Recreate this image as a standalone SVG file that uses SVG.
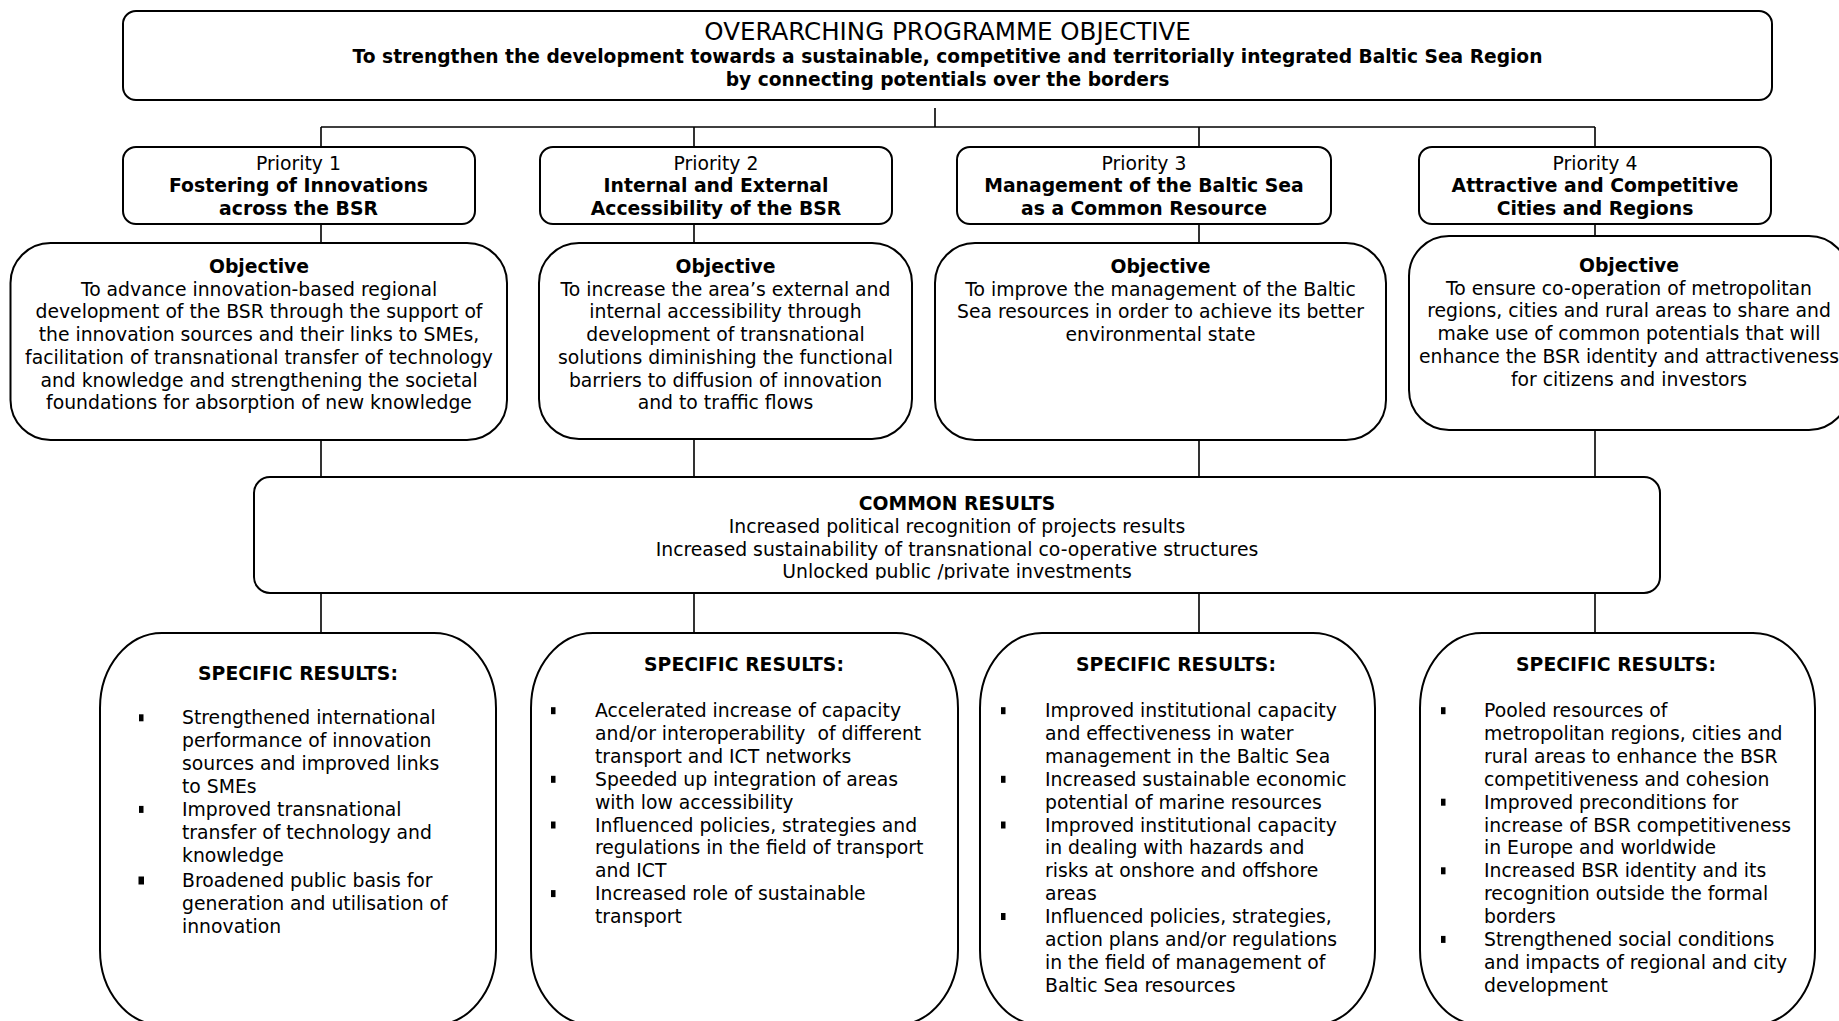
<svg xmlns="http://www.w3.org/2000/svg" width="1839" height="1021" viewBox="0 0 1839 1021">
<style>
text{font-family:"DejaVu Sans","Verdana",sans-serif;font-size:18.8px;fill:#000}
.c{text-anchor:middle}
.b{font-weight:bold}
.h{font-size:24.5px}
.t{font-size:18.65px}
.box{fill:#fff;stroke:#000;stroke-width:2}
.ln{stroke:#000;stroke-width:1.6;fill:none}
.bl{fill:#000}
</style>
<defs>
<clipPath id="cr"><rect x="254" y="477" width="1406" height="102.5"/></clipPath>
</defs>
<g id="connectors">
<path class="ln" d="M935 108V127M321 127H1595M321 127V147M694 127V147M1199 127V147M1595 127V147"/>
<path class="ln" d="M321 224V243M694 224V243M1199 224V243M1595 224V236"/>
<path class="ln" d="M321 440V477M694 439V477M1199 440V477M1595 430V477"/>
<path class="ln" d="M321 593V633M694 593V633M1199 593V633M1595 593V633"/>
</g>
<g id="overarching">
<rect class="box" x="123" y="11" width="1649" height="89" rx="13"/>
<text class="c h" x="947.5" y="40">OVERARCHING PROGRAMME OBJECTIVE</text>
<text class="c b t" x="947.5" y="63">To strengthen the development towards a sustainable, competitive and territorially integrated Baltic Sea Region</text>
<text class="c b t" x="947.5" y="86">by connecting potentials over the borders</text>
</g>
<g id="priority1">
<rect class="box" x="123" y="147" width="352" height="77" rx="13"/>
<text class="c" x="298.5" y="170">Priority 1</text>
<text class="c b" x="298.5" y="192">Fostering of Innovations</text>
<text class="c b" x="298.5" y="215">across the BSR</text>
</g>
<g id="priority2">
<rect class="box" x="540" y="147" width="352" height="77" rx="13"/>
<text class="c" x="716" y="170">Priority 2</text>
<text class="c b" x="716" y="192">Internal and External</text>
<text class="c b" x="716" y="215">Accessibility of the BSR</text>
</g>
<g id="priority3">
<rect class="box" x="957" y="147" width="374" height="77" rx="13"/>
<text class="c" x="1144" y="170">Priority 3</text>
<text class="c b" x="1144" y="192">Management of the Baltic Sea</text>
<text class="c b" x="1144" y="215">as a Common Resource</text>
</g>
<g id="priority4">
<rect class="box" x="1419" y="147" width="352" height="77" rx="13"/>
<text class="c" x="1595" y="170">Priority 4</text>
<text class="c b" x="1595" y="192">Attractive and Competitive</text>
<text class="c b" x="1595" y="215">Cities and Regions</text>
</g>
<g id="objective1">
<rect class="box" x="10.5" y="243" width="496.5" height="197" rx="40"/>
<text class="c b" x="259" y="273">Objective</text>
<text class="c" x="259" y="295.5">To advance innovation-based regional</text>
<text class="c" x="259" y="318.3">development of the BSR through the support of</text>
<text class="c" x="259" y="341">the innovation sources and their links to SMEs,</text>
<text class="c" x="259" y="363.8">facilitation of transnational transfer of technology</text>
<text class="c" x="259" y="386.6">and knowledge and strengthening the societal</text>
<text class="c" x="259" y="409.4">foundations for absorption of new knowledge</text>
</g>
<g id="objective2">
<rect class="box" x="539" y="243" width="373" height="196" rx="40"/>
<text class="c b" x="725.5" y="273">Objective</text>
<text class="c" x="725.5" y="295.5">To increase the area’s external and</text>
<text class="c" x="725.5" y="318.3">internal accessibility through</text>
<text class="c" x="725.5" y="341">development of transnational</text>
<text class="c" x="725.5" y="363.8">solutions diminishing the functional</text>
<text class="c" x="725.5" y="386.6">barriers to diffusion of innovation</text>
<text class="c" x="725.5" y="409.4">and to traffic flows</text>
</g>
<g id="objective3">
<rect class="box" x="935" y="243" width="451" height="197" rx="40"/>
<text class="c b" x="1160.5" y="273">Objective</text>
<text class="c" x="1160.5" y="295.5">To improve the management of the Baltic</text>
<text class="c" x="1160.5" y="318.3">Sea resources in order to achieve its better</text>
<text class="c" x="1160.5" y="341">environmental state</text>
</g>
<g id="objective4">
<rect class="box" x="1409" y="236" width="440" height="194" rx="40"/>
<text class="c b" x="1629" y="272">Objective</text>
<text class="c" x="1629" y="294.5">To ensure co-operation of metropolitan</text>
<text class="c" x="1629" y="317.3">regions, cities and rural areas to share and</text>
<text class="c" x="1629" y="340">make use of common potentials that will</text>
<text class="c" x="1629" y="362.8">enhance the BSR identity and attractiveness</text>
<text class="c" x="1629" y="385.6">for citizens and investors</text>
</g>
<g id="common-results">
<rect class="box" x="254" y="477" width="1406" height="116" rx="16"/>
<text class="c b" x="957" y="510">COMMON RESULTS</text>
<text class="c" x="957" y="532.8">Increased political recognition of projects results</text>
<text class="c" x="957" y="555.6">Increased sustainability of transnational co-operative structures</text>
<text class="c" x="957" y="578.4" clip-path="url(#cr)">Unlocked public /private investments</text>
</g>
<g id="specific1">
<rect class="box" x="100" y="633" width="396" height="392" rx="62" ry="75"/>
<text class="c b" x="298" y="680">SPECIFIC RESULTS:</text>
<rect class="bl" x="139" y="714.3" width="4.5" height="7"/>
<rect class="bl" x="139" y="805.9" width="4.5" height="7"/>
<rect class="bl" x="138.5" y="876.5" width="5.5" height="8"/>
<text x="182" y="724.3">Strengthened international</text>
<text x="182" y="747.2">performance of innovation</text>
<text x="182" y="770.1">sources and improved links</text>
<text x="182" y="793">to SMEs</text>
<text x="182" y="815.9">Improved transnational</text>
<text x="182" y="838.8">transfer of technology and</text>
<text x="182" y="861.7">knowledge</text>
<text x="182" y="887">Broadened public basis for</text>
<text x="182" y="909.9">generation and utilisation of</text>
<text x="182" y="932.8">innovation</text>
</g>
<g id="specific2">
<rect class="box" x="531" y="633" width="427" height="392" rx="62" ry="75"/>
<text class="c b" x="744" y="671">SPECIFIC RESULTS:</text>
<rect class="bl" x="551" y="707.2" width="4.5" height="7"/>
<rect class="bl" x="551" y="775.8" width="4.5" height="7"/>
<rect class="bl" x="551" y="821.5" width="4.5" height="7"/>
<rect class="bl" x="551" y="890.1" width="4.5" height="7"/>
<text x="595" y="717.2">Accelerated increase of capacity</text>
<text x="595" y="740.1" xml:space="preserve">and/or interoperability  of different</text>
<text x="595" y="762.9">transport and ICT networks</text>
<text x="595" y="785.8">Speeded up integration of areas</text>
<text x="595" y="808.7">with low accessibility</text>
<text x="595" y="831.5">Influenced policies, strategies and</text>
<text x="595" y="854.4">regulations in the field of transport</text>
<text x="595" y="877.3">and ICT</text>
<text x="595" y="900.1">Increased role of sustainable</text>
<text x="595" y="923">transport</text>
</g>
<g id="specific3">
<rect class="box" x="980" y="633" width="395" height="392" rx="62" ry="75"/>
<text class="c b" x="1176" y="671">SPECIFIC RESULTS:</text>
<rect class="bl" x="1001" y="707.2" width="4.5" height="7"/>
<rect class="bl" x="1001" y="775.8" width="4.5" height="7"/>
<rect class="bl" x="1001" y="821.5" width="4.5" height="7"/>
<rect class="bl" x="1001" y="913" width="4.5" height="7"/>
<text x="1045" y="717.2">Improved institutional capacity</text>
<text x="1045" y="740.1">and effectiveness in water</text>
<text x="1045" y="762.9">management in the Baltic Sea</text>
<text x="1045" y="785.8">Increased sustainable economic</text>
<text x="1045" y="808.7">potential of marine resources</text>
<text x="1045" y="831.5">Improved institutional capacity</text>
<text x="1045" y="854.4">in dealing with hazards and</text>
<text x="1045" y="877.3">risks at onshore and offshore</text>
<text x="1045" y="900.1">areas</text>
<text x="1045" y="923">Influenced policies, strategies,</text>
<text x="1045" y="945.9">action plans and/or regulations</text>
<text x="1045" y="968.7">in the field of management of</text>
<text x="1045" y="991.6">Baltic Sea resources</text>
</g>
<g id="specific4">
<rect class="box" x="1420" y="633" width="395" height="392" rx="62" ry="75"/>
<text class="c b" x="1616" y="671">SPECIFIC RESULTS:</text>
<rect class="bl" x="1441" y="707.2" width="4.5" height="7"/>
<rect class="bl" x="1441" y="798.7" width="4.5" height="7"/>
<rect class="bl" x="1441" y="867.3" width="4.5" height="7"/>
<rect class="bl" x="1441" y="935.9" width="4.5" height="7"/>
<text x="1484" y="717.2">Pooled resources of</text>
<text x="1484" y="740.1">metropolitan regions, cities and</text>
<text x="1484" y="762.9">rural areas to enhance the BSR</text>
<text x="1484" y="785.8">competitiveness and cohesion</text>
<text x="1484" y="808.7">Improved preconditions for</text>
<text x="1484" y="831.5">increase of BSR competitiveness</text>
<text x="1484" y="854.4">in Europe and worldwide</text>
<text x="1484" y="877.3">Increased BSR identity and its</text>
<text x="1484" y="900.1">recognition outside the formal</text>
<text x="1484" y="923">borders</text>
<text x="1484" y="945.9">Strengthened social conditions</text>
<text x="1484" y="968.7">and impacts of regional and city</text>
<text x="1484" y="991.6">development</text>
</g>
</svg>
